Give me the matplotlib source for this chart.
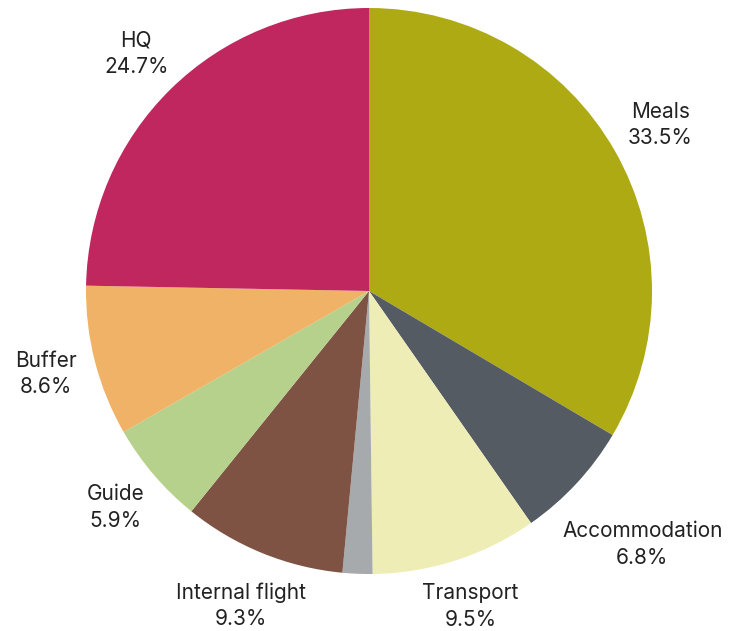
import numpy as np
import matplotlib.pyplot as plt

labels = ["Meals", "Accommodation", "Transport", "Other", "Internal flight", "Guide", "Buffer", "HQ"]
values = [33.5, 6.8, 9.5, 1.7, 9.3, 5.9, 8.6, 24.7]
colors = ["#AEAA14", "#545B63", "#EEEDB6", "#A7AAAD", "#7E5343", "#B6D18B", "#EFB266", "#C0275E"]
# how far out each label sits (in radii); the small slice gets none
label_dist = [1.186, 1.317, 1.171, 0, 1.20, 1.177, 1.18, 1.174]

plt.rcParams['font.family'] = ['Inter', 'DejaVu Sans']

fig = plt.figure(figsize=(7.37, 6.31), dpi=100)
ax = fig.add_axes([0, 0, 1, 1])

wedges, _ = ax.pie(values, colors=colors, startangle=90, counterclock=False,
                   radius=1.0, wedgeprops=dict(linewidth=0))

for w, lab, v, d in zip(wedges, labels, values, label_dist):
    if d == 0:
        continue
    mid = np.radians((w.theta1 + w.theta2) / 2)
    ax.text(d * np.cos(mid), d * np.sin(mid), "%s\n%.1f%%" % (lab, v),
            ha='center', va='center', fontsize=15, color='#222222',
            linespacing=1.4, multialignment='center')

r = 283.0
ax.set_xlim(-369 / r, (737 - 369) / r)
ax.set_ylim(-(631 - 291) / r, 291 / r)
ax.set_aspect('equal')
ax.axis('off')

fig.savefig("out.png", dpi=100)
